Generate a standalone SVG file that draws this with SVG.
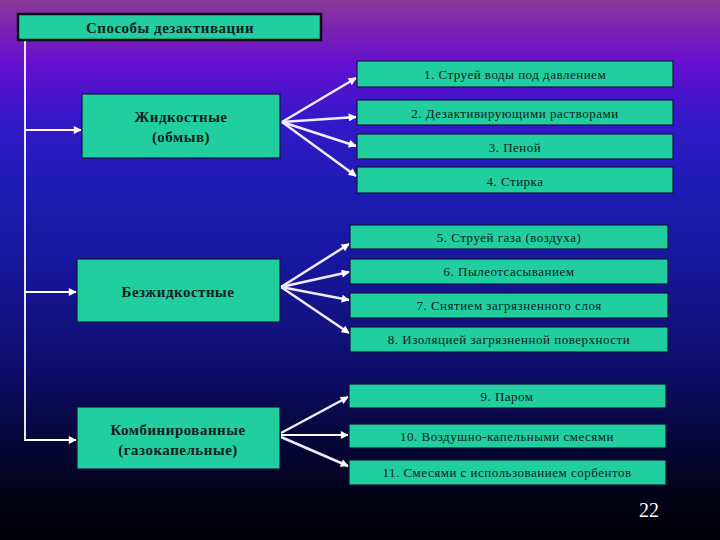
<svg xmlns="http://www.w3.org/2000/svg" width="720" height="540" viewBox="0 0 720 540">
<defs>
<linearGradient id="bg" x1="0" y1="0" x2="0" y2="1">
<stop offset="0" stop-color="#8a3a98"/>
<stop offset="0.06" stop-color="#7a20b4"/>
<stop offset="0.12" stop-color="#6410d0"/>
<stop offset="0.22" stop-color="#3418c8"/>
<stop offset="0.35" stop-color="#1c1cb4"/>
<stop offset="0.5" stop-color="#16169a"/>
<stop offset="0.68" stop-color="#0e0e6c"/>
<stop offset="0.82" stop-color="#060638"/>
<stop offset="0.92" stop-color="#020216"/>
<stop offset="1" stop-color="#000006"/>
</linearGradient>
<marker id="ahs" viewBox="0 0 10 10" refX="9" refY="5" markerWidth="10" markerHeight="8" markerUnits="userSpaceOnUse" orient="auto">
<path d="M0,0 L10,5 L0,10 z" fill="#ffffff"/>
</marker>
</defs>
<style>
.box{fill:#20cea0;stroke:#14143a;stroke-width:1.2}
.title{fill:#20cea0;stroke:#0a0a14;stroke-width:2.5}
.bt{font-family:"Liberation Serif","DejaVu Serif",serif;font-weight:bold;font-size:15px;letter-spacing:0.5px;fill:#10201a;text-anchor:middle}
.it{font-family:"Liberation Serif","DejaVu Serif",serif;font-size:13px;letter-spacing:0.5px;fill:#10201a;text-anchor:middle}
.ln{stroke:#ffffff;stroke-width:1.8;fill:none}
.fn{stroke:#f4eaff;stroke-width:2.5;fill:none}
</style>
<rect x="0" y="0" width="720" height="540" fill="url(#bg)"/>

<g id="connectors">
<path class="ln" d="M25,40 V441"/>
<path class="ln" d="M25,130 H81" marker-end="url(#ahs)"/>
<path class="ln" d="M25,292 H76" marker-end="url(#ahs)"/>
<path class="ln" d="M25,440 H76" marker-end="url(#ahs)"/>
<path class="fn" d="M282,122 L356,78" marker-end="url(#ahs)"/>
<path class="fn" d="M282,122 L356,117" marker-end="url(#ahs)"/>
<path class="fn" d="M282,122 L356,146" marker-end="url(#ahs)"/>
<path class="fn" d="M282,122 L356,176" marker-end="url(#ahs)"/>
<path class="fn" d="M281,287 L349,244" marker-end="url(#ahs)"/>
<path class="fn" d="M281,287 L349,272" marker-end="url(#ahs)"/>
<path class="fn" d="M281,287 L349,300" marker-end="url(#ahs)"/>
<path class="fn" d="M281,287 L349,333" marker-end="url(#ahs)"/>
<path class="fn" d="M281,433 L348,397" marker-end="url(#ahs)"/>
<path class="ln" d="M281,435 L348,435" marker-end="url(#ahs)"/>
<path class="fn" d="M281,437 L348,466" marker-end="url(#ahs)"/>
</g>

<g id="title">
<rect class="title" x="18" y="14" width="303" height="26"/>
<text class="bt" x="170" y="33">Способы дезактивации</text>
</g>

<g id="liquid">
<rect class="box" x="82" y="94" width="198" height="64"/>
<text class="bt" x="181" y="122">Жидкостные</text>
<text class="bt" x="181" y="142">(обмыв)</text>
</g>
<g id="dry">
<rect class="box" x="77" y="259" width="203" height="63"/>
<text class="bt" x="178" y="297">Безжидкостные</text>
</g>
<g id="combined">
<rect class="box" x="77" y="407" width="203" height="62"/>
<text class="bt" x="178" y="435">Комбинированные</text>
<text class="bt" x="178" y="455">(газокапельные)</text>
</g>

<g id="m1"><rect class="box" x="357" y="61" width="316" height="26"/><text class="it" x="515" y="79">1. Струей воды под давлением</text></g>
<g id="m2"><rect class="box" x="357" y="100" width="316" height="25"/><text class="it" x="515" y="118">2. Дезактивирующими растворами</text></g>
<g id="m3"><rect class="box" x="357" y="134" width="316" height="25"/><text class="it" x="515" y="152">3. Пеной</text></g>
<g id="m4"><rect class="box" x="357" y="167" width="316" height="26"/><text class="it" x="515" y="186">4. Стирка</text></g>
<g id="m5"><rect class="box" x="350" y="225" width="318" height="24"/><text class="it" x="509" y="242">5. Струей газа (воздуха)</text></g>
<g id="m6"><rect class="box" x="350" y="259" width="318" height="25"/><text class="it" x="509" y="276">6. Пылеотсасыванием</text></g>
<g id="m7"><rect class="box" x="350" y="293" width="318" height="25"/><text class="it" x="509" y="310">7. Снятием загрязненного слоя</text></g>
<g id="m8"><rect class="box" x="350" y="327" width="318" height="25"/><text class="it" x="509" y="344">8. Изоляцией загрязненной поверхности</text></g>
<g id="m9"><rect class="box" x="349" y="384" width="317" height="24"/><text class="it" x="507" y="401">9. Паром</text></g>
<g id="m10"><rect class="box" x="349" y="424" width="317" height="24"/><text class="it" x="507" y="441">10. Воздушно-капельными смесями</text></g>
<g id="m11"><rect class="box" x="349" y="460" width="317" height="25"/><text class="it" x="507" y="477">11. Смесями с использованием сорбентов</text></g>

<text x="649" y="517" font-family="'Liberation Serif','DejaVu Serif',serif" font-size="20" fill="#ffffff" text-anchor="middle">22</text>
</svg>
